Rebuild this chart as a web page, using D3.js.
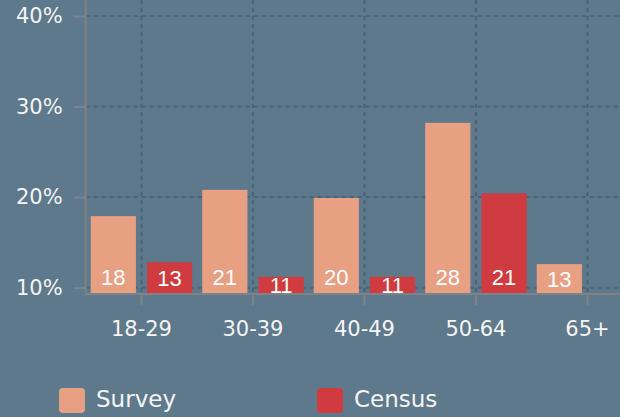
<!DOCTYPE html>
<html>
<head>
<meta charset="utf-8">
<script src="https://cdn.jsdelivr.net/npm/d3@7"></script>
<style>
  html, body { margin: 0; padding: 0; background: #5e788c; }
  svg { display: block; }
</style>
</head>
<body>
<svg id="chart" width="620" height="417"></svg>
<script>
const categories = ["18-29", "30-39", "40-49", "50-64", "65+"];
const surveyValues = [17.9, 20.8, 19.9, 28.2, 12.6];
const censusValues = [12.8, 11.2, 11.2, 20.4, null];
const surveyLabels = ["18", "21", "20", "28", "13"];
const censusLabels = ["13", "11", "11", "21", ""];
const yTicks = [10, 20, 30, 40];
const seriesNames = ["Survey", "Census"];
const seriesColors = ["#e8a083", "#cf3b3e"];

(function () {
const svg = d3.select("#chart");
const W = 620, H = 417;
const axisFont = "DejaVu Sans, sans-serif";
svg.append("rect").attr("width", W).attr("height", H).attr("fill", "#5e788c");

const plotLeft = 85.7, plotBottom = 294, plotTop = 16;
const step = 111.5;
const x = d3.scaleBand().domain(categories).range([plotLeft, plotLeft + step * categories.length]).paddingInner(0).paddingOuter(0);
const y = d3.scaleLinear().domain([9.3, 40]).range([plotBottom, plotTop]);
const sub = d3.scaleBand().domain(seriesNames).range([0, x.bandwidth()]).paddingInner(11 / 56).paddingOuter(5 / 56);

const gridColor = "#4b6276";
const axisColor = "#7f8387";

svg.append("g").selectAll("line").data(yTicks).join("line")
  .attr("x1", plotLeft).attr("x2", W)
  .attr("y1", d => y(d)).attr("y2", d => y(d))
  .attr("stroke", gridColor).attr("stroke-width", 2).attr("stroke-dasharray", "4,4");
svg.append("g").selectAll("line").data(categories).join("line")
  .attr("x1", d => x(d) + x.bandwidth() / 2).attr("x2", d => x(d) + x.bandwidth() / 2)
  .attr("y1", 0).attr("y2", plotBottom)
  .attr("stroke", gridColor).attr("stroke-width", 2).attr("stroke-dasharray", "4,4");

const seriesData = [surveyValues, censusValues];
const seriesLabels = [surveyLabels, censusLabels];
seriesNames.forEach((name, si) => {
  const data = categories.map((c, i) => ({ c, v: seriesData[si][i], lab: seriesLabels[si][i] })).filter(d => d.v != null);
  const g = svg.append("g");
  g.selectAll("rect").data(data).join("rect")
    .attr("x", d => x(d.c) + sub(name))
    .attr("width", sub.bandwidth())
    .attr("y", d => y(d.v))
    .attr("height", d => plotBottom + 1 - y(d.v))
    .attr("fill", seriesColors[si]);
  g.selectAll("text").data(data).join("text")
    .attr("x", d => x(d.c) + sub(name) + sub.bandwidth() / 2)
    .attr("y", d => Math.max((y(d.v) + plotBottom) / 2, plotBottom - 17))
    .attr("dy", "0.36em")
    .attr("text-anchor", "middle")
    .attr("font-family", "Liberation Sans, Arial, sans-serif")
    .attr("font-size", 22)
    .attr("fill", "#ffffff")
    .text(d => d.lab);
});

const yAxis = svg.append("g").attr("transform", `translate(${plotLeft},0)`)
  .call(d3.axisLeft(y).tickValues(yTicks).tickSize(12).tickPadding(10).tickFormat(d => d + "%"));
yAxis.select(".domain").remove();
yAxis.append("line").attr("x1", 0).attr("x2", 0).attr("y1", 0).attr("y2", plotBottom + 1)
  .attr("stroke", axisColor).attr("stroke-width", 2);
yAxis.selectAll(".tick line").attr("stroke", axisColor).attr("stroke-width", 2);
yAxis.selectAll(".tick text").attr("fill", "#f4f4f4").attr("font-size", 21)
  .attr("font-family", axisFont).attr("dx", "-1");

const xAxis = svg.append("g").attr("transform", `translate(0,${plotBottom})`)
  .call(d3.axisBottom(x).tickSize(11).tickPadding(16));
xAxis.select(".domain").remove();
xAxis.append("line").attr("x1", plotLeft).attr("x2", W).attr("y1", 0).attr("y2", 0)
  .attr("stroke", axisColor).attr("stroke-width", 2);
xAxis.selectAll(".tick line").attr("stroke", axisColor).attr("stroke-width", 2);
xAxis.selectAll(".tick text").attr("fill", "#f4f4f4").attr("font-size", 21)
  .attr("font-family", axisFont);

const legendX = [59, 317];
const legend = svg.append("g");
seriesNames.forEach((name, i) => {
  legend.append("rect").attr("x", legendX[i]).attr("y", 388).attr("width", 26).attr("height", 25)
    .attr("rx", 4).attr("fill", seriesColors[i]);
  legend.append("text").attr("x", legendX[i] + 37).attr("y", 407)
    .attr("font-family", axisFont).attr("font-size", 23)
    .attr("fill", "#f4f4f4").text(name);
});
})();
</script>
</body>
</html>
